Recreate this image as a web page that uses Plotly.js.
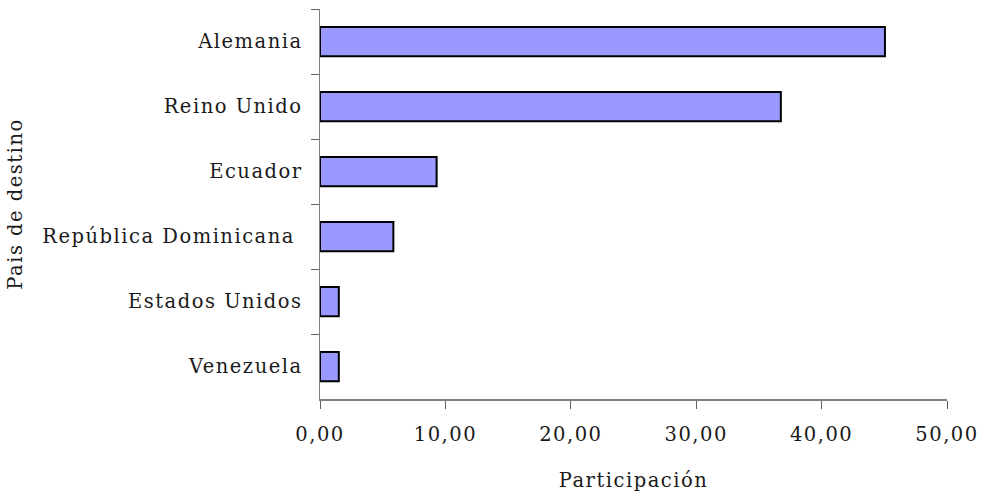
<!DOCTYPE html>
<html>
<head>
<meta charset="utf-8">
<script src="https://cdn.plot.ly/plotly-3.0.1.min.js"></script>
<style>html,body{margin:0;padding:0;background:#fff;}#chart{width:982px;height:497px;}#chart svg text{letter-spacing:1.5px;}</style>
</head>
<body>
<div id="chart"></div>
<script>
const countries = ["Alemania", "Reino Unido", "Ecuador", "República Dominicana\u00a0", "Estados Unidos", "Venezuela"];
const shares = [45.05, 36.75, 9.3, 5.85, 1.5, 1.5];
const xTicks = [0, 10, 20, 30, 40, 50];
const xTitle = "Participación";
const yTitle = "Pais de destino";

const font = {family: "DejaVu Serif, Liberation Serif, serif", size: 19.5, color: "#1a1a1a"};

Plotly.newPlot("chart", [{
  type: "bar",
  orientation: "h",
  x: shares,
  y: countries,
  marker: {color: "#9999FF", line: {color: "#000000", width: 2}},
  width: 0.45,
  hoverinfo: "skip"
}], {
  width: 982, height: 497,
  margin: {l: 320, r: 35, t: 9, b: 98},
  paper_bgcolor: "#ffffff", plot_bgcolor: "#ffffff",
  font: font,
  separators: ", ",
  showlegend: false,
  xaxis: {
    range: [0, 50],
    tickvals: xTicks,
    tickformat: ".2f",
    showgrid: false, zeroline: false,
    showline: true, linecolor: "#808080", linewidth: 1.5,
    ticks: "outside", ticklen: 8, tickcolor: "#606060", tickwidth: 1,
    ticklabelstandoff: 9,
    tickfont: font,
    title: {text: xTitle, font: font, standoff: 28}
  },
  yaxis: {
    autorange: "reversed",
    type: "category",
    showgrid: false, zeroline: false,
    showline: true, linecolor: "#808080", linewidth: 1.5,
    ticks: "outside", ticklen: 8, tickcolor: "#606060", tickwidth: 1,
    tickson: "boundaries",
    ticklabelstandoff: 12,
    tickfont: font,
    title: {text: yTitle, font: font, standoff: 46}
  }
}, {staticPlot: true});
</script>
</body>
</html>
